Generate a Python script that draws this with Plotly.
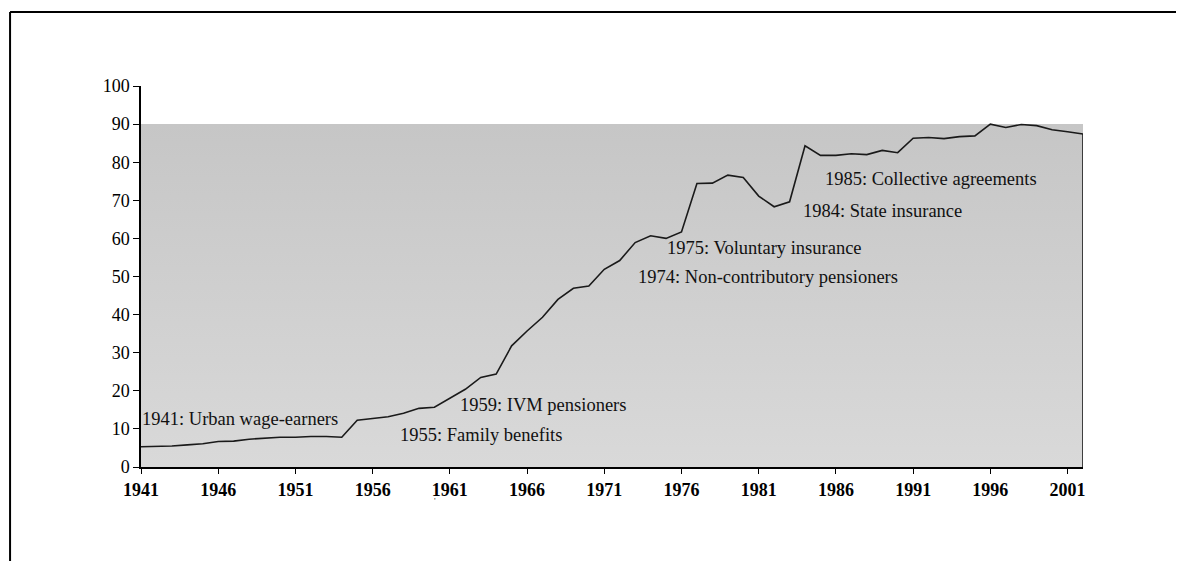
"""Coverage of the social security system, 1941-2002."""

import plotly.graph_objects as go

years = list(range(1941, 2003))
coverage = [
    5.3, 5.4, 5.5, 5.8, 6.1, 6.7, 6.8, 7.3, 7.5, 7.8,
    7.8, 8.0, 8.0, 7.8, 12.3, 12.8, 13.2, 14.1, 15.4, 15.7,
    18.0, 20.4, 23.5, 24.4, 31.8, 35.7, 39.3, 44.0, 46.9, 47.5,
    51.9, 54.2, 58.9, 60.7, 60.0, 61.7, 74.4, 74.5, 76.6, 76.0,
    71.1, 68.3, 69.6, 84.3, 81.8, 81.8, 82.2, 82.0, 83.1, 82.5,
    86.3, 86.5, 86.2, 86.7, 86.9, 90.0, 89.1, 89.9, 89.6, 88.5,
    88.0, 87.4,
]

band_top = 90
tick_years = list(range(1941, 2002, 5))
y_ticks = list(range(0, 101, 10))

milestone_text = [
    "1941: Urban wage-earners",
    "1955: Family benefits",
    "1959: IVM pensioners",
    "1974: Non-contributory pensioners",
    "1975: Voluntary insurance",
    "1984: State insurance",
    "1985: Collective agreements",
]
milestone_x = [1941.2, 1957.9, 1961.8, 1973.3, 1975.2, 1984.0, 1985.4]
milestone_y = [12.6, 8.3, 16.4, 49.9, 57.5, 67.2, 75.6]

SERIF = "Liberation Serif, Times New Roman, serif"

fig = go.Figure()

# grey band behind the series, 0 to 90
fig.add_trace(
    go.Scatter(
        x=[years[0], years[-1], years[-1], years[0], years[0]],
        y=[0, 0, band_top, band_top, 0],
        fill="toself",
        fillgradient=dict(
            type="vertical",
            start=0,
            stop=band_top,
            colorscale=[[0, "#d9d9d9"], [1, "#c6c6c6"]],
        ),
        line=dict(width=0),
        mode="lines",
        hoverinfo="skip",
        showlegend=False,
    )
)

fig.add_trace(
    go.Scatter(
        x=years,
        y=coverage,
        mode="lines",
        line=dict(color="#1a1a1a", width=1.6),
        showlegend=False,
    )
)

# drop line at the last year
fig.add_shape(
    type="line", xref="x", yref="y",
    x0=years[-1], x1=years[-1], y0=0, y1=coverage[-1],
    line=dict(color="#1a1a1a", width=1.6),
)

for text, x, y in zip(milestone_text, milestone_x, milestone_y):
    fig.add_annotation(
        x=x, y=y, text=text, showarrow=False,
        xanchor="left", yanchor="middle", xshift=-4,
        font=dict(family=SERIF, size=18.5, color="#111111"),
    )

# stray mark under the axis
fig.add_annotation(
    x=0.309, y=-0.108, xref="paper", yref="paper", text="'", showarrow=False,
    font=dict(family=SERIF, size=9, color="#444444"),
)

# outer frame
fig.add_shape(type="line", xref="paper", yref="paper",
              x0=-0.139, x1=1.13, y0=1.194, y1=1.194,
              line=dict(color="black", width=2))
fig.add_shape(type="line", xref="paper", yref="paper",
              x0=-0.139, x1=-0.139, y0=1.194, y1=-0.30,
              line=dict(color="black", width=2))

fig.update_layout(
    width=1184,
    height=561,
    margin=dict(l=133, r=109, t=78, b=102),
    paper_bgcolor="white",
    plot_bgcolor="white",
    showlegend=False,
)
fig.update_xaxes(
    range=[years[0], years[-1]],
    tickvals=tick_years,
    ticks="outside",
    ticklen=5,
    tickcolor="black",
    showline=True,
    linecolor="black",
    linewidth=2,
    showgrid=False,
    zeroline=False,
    tickfont=dict(family=SERIF, size=18, color="black", weight="bold"),
)
fig.update_yaxes(
    range=[0, 100],
    tickvals=y_ticks,
    ticks="outside",
    ticklen=6,
    tickcolor="black",
    showline=True,
    linecolor="black",
    linewidth=1.5,
    showgrid=False,
    zeroline=False,
    tickfont=dict(family=SERIF, size=18, color="black"),
)

fig.write_html("out.html")
